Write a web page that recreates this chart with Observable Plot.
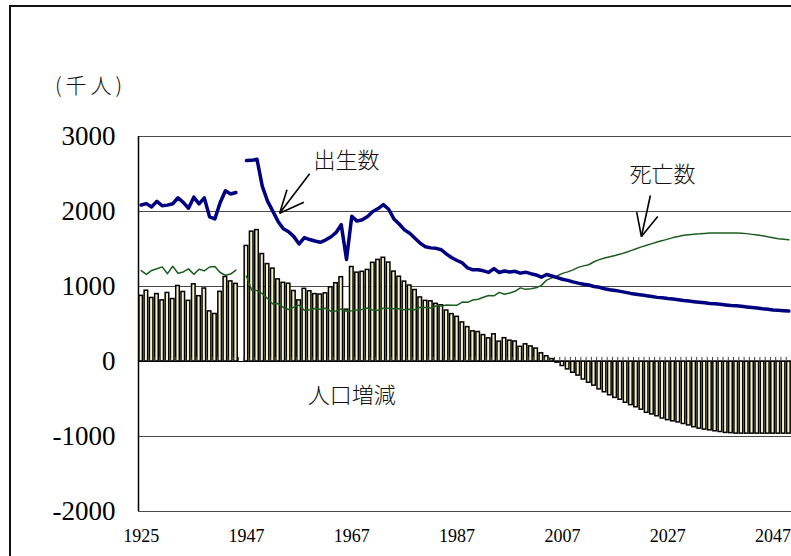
<!DOCTYPE html>
<html lang="ja">
<head>
<meta charset="utf-8">
<script src="https://cdn.jsdelivr.net/npm/d3@7"></script>
<script src="https://cdn.jsdelivr.net/npm/@observablehq/plot@0.6"></script>
<style>
  html, body { margin: 0; padding: 0; background: #fff; overflow: hidden; }
  #page { position: relative; width: 791px; height: 556px; overflow: hidden; }
  #frame { position: absolute; left: 9px; top: 5px; width: 820px; height: 600px;
           border-left: 2px solid #111; border-top: 2px solid #111; }
  #unit { position: absolute; left: 55px; top: 71px; font-family: "Noto Sans CJK JP";
          font-weight: 300; font-size: 21px; letter-spacing: 4px; color: #111; line-height: 26px; }
  #chart { position: absolute; left: 0; top: 0; }
</style>
</head>
<body>
<div id="page">
  <div id="frame"></div>
  <div id="unit">(千人)</div>
  <div id="chart"></div>
</div>
<script>
// Years 1925–1943, then 1947 onward (1944–46 share one empty slot on the axis)
const prewarYears = d3.range(1925, 1944);
const postwarYears = d3.range(1947, 2051);

// Births (thousands)
const prewarBirths = [2086, 2105, 2061, 2136, 2077, 2085, 2103, 2183, 2121, 2044, 2191, 2102, 2181, 1928, 1902, 2116, 2277, 2234, 2254];
const postwarBirths = [
  2679, 2682, 2697, 2338, 2138, 2005, 1868, 1770, 1731, 1665, 1567, 1653, 1626, 1606, 1589, 1619, 1660, 1717, 1824, 1361,
  1936, 1872, 1890, 1934, 2001, 2039, 2092, 2030, 1901, 1833, 1755, 1709, 1643, 1577, 1529, 1515, 1509, 1490, 1432, 1383,
  1347, 1314, 1247, 1222, 1223, 1209, 1188, 1238, 1187, 1207, 1192, 1203, 1178, 1191, 1171, 1154, 1124,
  1160, 1140, 1118, 1097, 1082, 1062, 1045, 1030, 1020, 1000, 990, 970, 958, 948, 935, 922, 908, 898, 888, 876,
  866, 855, 850, 840, 832, 823, 813, 806, 798, 790, 782, 774, 769, 762, 754, 746, 742, 736, 728, 720,
  712, 703, 696, 688, 682, 678, 672
];

// Deaths (thousands)
const prewarDeaths = [1211, 1161, 1214, 1237, 1262, 1171, 1270, 1176, 1194, 1235, 1162, 1231, 1208, 1260, 1268, 1187, 1150, 1166, 1219];
const postwarDeaths = [
  1138, 951, 945, 905, 839, 766, 773, 721, 694, 725, 752, 684, 690, 707, 696, 710, 671, 674, 700, 670,
  676, 687, 694, 713, 685, 684, 709, 711, 702, 703, 690, 696, 690, 723, 720, 712, 740, 740, 752, 751,
  751, 793, 789, 820, 830, 857, 879, 876, 922, 896, 914, 936, 982, 962, 970, 982, 1015,
  1085, 1115, 1140, 1175, 1195, 1222, 1255, 1275, 1290, 1330, 1358, 1380, 1398, 1414, 1432, 1454, 1478, 1503, 1528, 1550,
  1572, 1594, 1612, 1632, 1652, 1668, 1682, 1690, 1698, 1702, 1708, 1712, 1712, 1712, 1712, 1712, 1712, 1710, 1705, 1695,
  1686, 1676, 1662, 1650, 1638, 1630, 1622
];

// Natural increase (人口増減, thousands)
const prewarChange = [875, 944, 847, 899, 815, 914, 833, 1007, 927, 809, 1029, 871, 973, 668, 634, 929, 1127, 1068, 1035];
const postwarChange = [
  1541, 1731, 1752, 1433, 1299, 1239, 1095, 1049, 1037, 940, 815, 969, 936, 899, 893, 909, 989, 1043, 1124, 691,
  1260, 1185, 1196, 1221, 1316, 1355, 1383, 1319, 1199, 1130, 1065, 1013, 953, 854, 809, 803, 769, 750, 680, 632,
  596, 521, 458, 402, 393, 352, 309, 362, 265, 311, 278, 267, 196, 229, 201, 173, 109,
  70, 32, -15, -60, -105, -150, -188, -240, -283, -322, -372, -410, -450, -485, -510, -550, -582, -610, -642, -684,
  -706, -730, -760, -782, -798, -812, -833, -852, -876, -895, -908, -918, -930, -940, -952, -955, -962, -962, -962, -962,
  -962, -962, -962, -962, -962, -962, -962
];

// Axis ticks
const xTickYears = [1925, 1947, 1967, 1987, 2007, 2027, 2047];
const xTickLabels = ["1925", "1947", "1967", "1987", "2007", "2027", "2047"];
const yTicks = [3000, 2000, 1000, 0, -1000, -2000];
const gridLevels = [3000, 2000, 1000, -1000, -2000];

// Series labels and their pointer arrows: [year, value] for tip, tail and the two head strokes
const seriesLabels = [
  {text: "出生数", year: 1966, value: 2680},
  {text: "死亡数", year: 2026, value: 2490},
  {text: "人口増減", year: 1967, value: -455}
];
const birthsArrow = [[1953.3, 1977], [1959.0, 2503], [1954.7, 2289], [1957.9, 2124]];
const deathsArrow = [[2022.0, 1667], [2023.7, 2213], [2021.1, 1991], [2025.1, 1933]];

// Category slot on the x axis
const slot = (year) => (year <= 1943 ? year - 1925 : year - 1927);

const rows = [
  ...prewarYears.map((year, k) => ({year, era: "prewar", births: prewarBirths[k], deaths: prewarDeaths[k], change: prewarChange[k]})),
  ...postwarYears.map((year, k) => ({year, era: "postwar", births: postwarBirths[k], deaths: postwarDeaths[k], change: postwarChange[k]}))
];

const arrowSegments = [birthsArrow, deathsArrow].flatMap(([tip, ...ends]) =>
  ends.map((end) => ({x1: slot(tip[0]), y1: tip[1], x2: slot(end[0]), y2: end[1]}))
);

const lastSlot = slot(postwarYears[postwarYears.length - 1]);
const boundaries = d3.range(0.5, lastSlot + 0.5, 1);
const tickLabelOf = new Map(xTickYears.map((y, k) => [slot(y), xTickLabels[k]]));

const chart = Plot.plot({
  width: 791,
  height: 556,
  marginLeft: 138,
  marginRight: 0,
  marginTop: 136,
  marginBottom: 45,
  style: {background: "transparent", color: "#000", fontFamily: "'Liberation Serif', serif"},
  x: {type: "linear", domain: [-0.5, lastSlot + 0.5], label: null},
  y: {domain: [-2000, 3000], label: null},
  marks: [
    Plot.ruleY(gridLevels, {stroke: "#4a4a4a", strokeWidth: 1}),
    Plot.rect(rows, {
      x1: (d) => slot(d.year) - 0.34,
      x2: (d) => slot(d.year) + 0.34,
      y1: 0,
      y2: "change",
      fill: "#f2f2c4",
      stroke: "#000",
      strokeWidth: 1.5
    }),
    Plot.ruleY([0], {stroke: "#000", strokeWidth: 1}),
    Plot.ruleX(boundaries, {x: (d) => d, y1: 0, y2: 55, stroke: "#444", strokeWidth: 1}),
    Plot.line(rows, {x: (d) => slot(d.year), y: "deaths", z: "era", stroke: "#1b5e20", strokeWidth: 1.5}),
    Plot.line(rows, {x: (d) => slot(d.year), y: "births", z: "era", stroke: "#000080", strokeWidth: 3.5, strokeLinejoin: "round"}),
    Plot.link(arrowSegments, {x1: "x1", y1: "y1", x2: "x2", y2: "y2", stroke: "#000", strokeWidth: 1.6}),
    Plot.text(seriesLabels, {
      x: (d) => slot(d.year),
      y: "value",
      text: "text",
      fontFamily: "Noto Sans CJK JP",
      fontWeight: 300,
      fontSize: 22,
      fill: "#111"
    }),
    Plot.ruleX([-0.5], {stroke: "#000", strokeWidth: 1.5}),
    Plot.axisY({
      ticks: yTicks,
      tickSize: 0,
      tickPadding: 23,
      tickFormat: (d) => String(d),
      fontSize: 27,
      fill: "#000"
    }),
    Plot.axisX({
      ticks: xTickYears.map(slot),
      tickSize: 0,
      tickPadding: 18,
      tickFormat: (i) => tickLabelOf.get(i),
      fontSize: 18,
      fill: "#000"
    })
  ]
});

document.getElementById("chart").append(chart);
</script>
</body>
</html>
